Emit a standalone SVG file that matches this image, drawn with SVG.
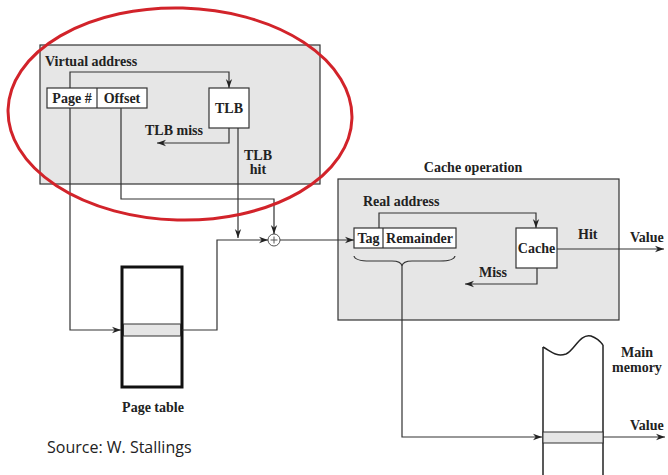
<svg xmlns="http://www.w3.org/2000/svg" width="668" height="475" viewBox="0 0 668 475">
<style>
.t{font-family:"Liberation Serif","Times New Roman",serif;font-weight:bold;font-size:14px;fill:#222}
.m{text-anchor:middle}
.panel{fill:#e6e6e6;stroke:#333;stroke-width:1.2}
.box{fill:#fff;stroke:#333;stroke-width:1.2}
.ln{fill:none;stroke:#333;stroke-width:1.2}
.src{font-family:"Open Sans","Liberation Sans",sans-serif;font-size:16px;fill:#222}
</style>
<defs>
<marker id="ah" viewBox="0 0 10 10" refX="10" refY="5" markerWidth="9" markerHeight="9" markerUnits="userSpaceOnUse" orient="auto">
<path d="M0,1.5 L10,5 L0,8.5 L3,5 Z" fill="#222"/>
</marker>
</defs>
<rect width="668" height="475" fill="#fff"/>

<g id="virtual-address-panel">
<rect class="panel" x="40" y="45" width="280" height="139"/>
<text class="t" x="45" y="66">Virtual address</text>
</g>
<g id="page-offset">
<rect class="box" x="47" y="88" width="100" height="20"/>
<line class="ln" x1="97" y1="88" x2="97" y2="108"/>
<text class="t m" x="72" y="103">Page #</text>
<text class="t m" x="122" y="103">Offset</text>
</g>
<g id="tlb">
<rect class="box" x="209" y="88" width="40" height="40"/>
<text class="t m" x="229" y="113">TLB</text>
</g>
<g id="cache-panel">
<text class="t m" x="473" y="172">Cache operation</text>
<rect class="panel" x="338" y="179" width="281" height="141"/>
<text class="t" x="363" y="206">Real address</text>
</g>
<g id="tag-remainder">
<rect class="box" x="354" y="228" width="102" height="20"/>
<line class="ln" x1="383" y1="228" x2="383" y2="248"/>
<text class="t m" x="368.5" y="243">Tag</text>
<text class="t m" x="419.5" y="243">Remainder</text>
</g>
<g id="cache">
<rect class="box" x="516" y="228" width="41" height="40"/>
<text class="t m" x="536.5" y="253">Cache</text>
</g>
<g id="adder">
<circle cx="274" cy="240" r="6" fill="#fff" stroke="#555" stroke-width="1"/>
<path d="M270.5,240 H277.5 M274,236.5 V243.5" stroke="#555" stroke-width="1"/>
</g>
<g id="page-table">
<rect x="122" y="267" width="60" height="120" fill="#fff" stroke="#111" stroke-width="3"/>
<rect x="123.5" y="324" width="57" height="12" fill="#e6e6e6" stroke="#333" stroke-width="1"/>
<text class="t m" x="153" y="412">Page table</text>
</g>
<g id="main-memory">
<path d="M543,347 C552,352 556,357 566,354 C574,351 580,333 591,336 C597,338 600,341 603,345" fill="none" stroke="#222" stroke-width="1.5"/>
<line x1="543" y1="347" x2="543" y2="475" stroke="#222" stroke-width="1.5"/>
<line x1="603" y1="345" x2="603" y2="475" stroke="#222" stroke-width="1.5"/>
<rect x="543" y="432" width="60" height="11" fill="#e6e6e6" stroke="#333" stroke-width="1"/>
<text class="t m" x="637" y="357">Main</text>
<text class="t m" x="637" y="372">memory</text>
</g>

<g id="connectors">
<polyline class="ln" points="70,88 70,72 229,72 229,88" marker-end="url(#ah)"/>
<polyline class="ln" points="229,128 229,143 157,143" marker-end="url(#ah)"/>
<polyline class="ln" points="238,128 238,238" marker-end="url(#ah)"/>
<polyline class="ln" points="121,108 121,199 274,199 274,234" marker-end="url(#ah)"/>
<polyline class="ln" points="70,108 70,330 121,330" marker-end="url(#ah)"/>
<polyline class="ln" points="182,330 217,330 217,240 268,240" marker-end="url(#ah)"/>
<polyline class="ln" points="280,240 354,240" marker-end="url(#ah)"/>
<polyline class="ln" points="379,228 379,213 536,213 536,228" marker-end="url(#ah)"/>
<polyline class="ln" points="537,268 537,284 465,284" marker-end="url(#ah)"/>
<polyline class="ln" points="557,249 664,249" marker-end="url(#ah)"/>
<path class="ln" d="M354,256 Q355,261 370,261 L392,261 Q401,261 402,266 Q403,261 412,261 L440,261 Q454,261 455,256" stroke="#666"/>
<polyline class="ln" points="402,266 402,437 542,437" marker-end="url(#ah)"/>
<polyline class="ln" points="603,437 665,437" marker-end="url(#ah)"/>
<text class="t" x="145" y="135">TLB miss</text>
<text class="t m" x="258" y="160">TLB</text>
<text class="t m" x="258" y="174">hit</text>
<text class="t" x="578" y="239">Hit</text>
<text class="t" x="630" y="242">Value</text>
<text class="t" x="479" y="277">Miss</text>
<text class="t" x="630" y="430">Value</text>
</g>

<ellipse cx="180" cy="114" rx="172" ry="106" fill="none" stroke="#d2232a" stroke-width="3" transform="rotate(1.5 180 114)"/>
<text class="src" x="47" y="453">Source: W. Stallings</text>
</svg>
